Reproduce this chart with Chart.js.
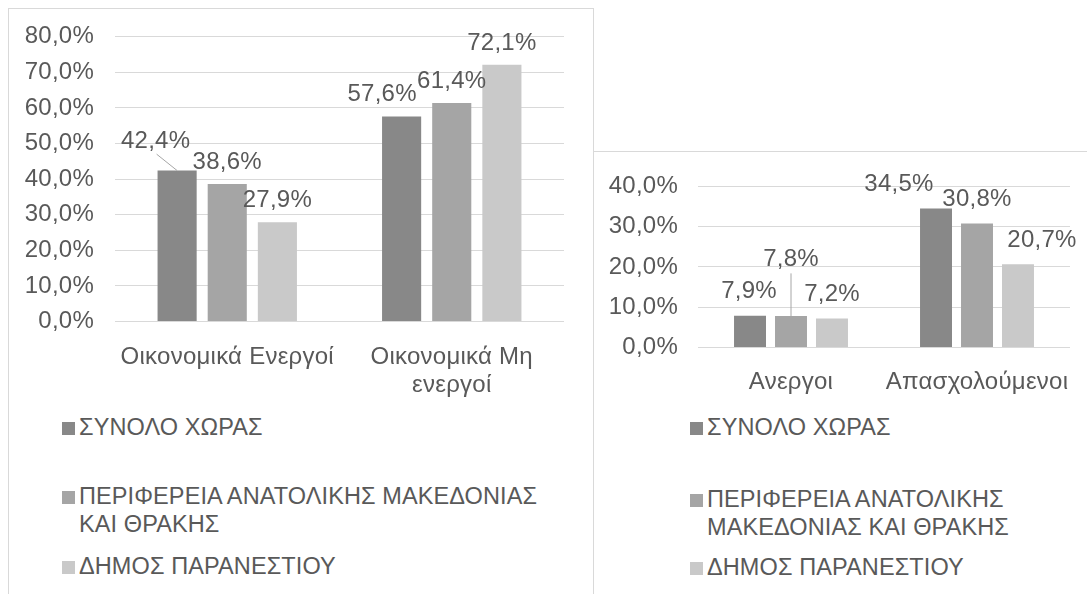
<!DOCTYPE html>
<html>
<head>
<meta charset="utf-8">
<script src="https://cdn.jsdelivr.net/npm/chart.js@4.4.0/dist/chart.umd.min.js"></script>
<style>
  body { margin: 0; width: 1087px; height: 594px; overflow: hidden; position: relative; background: #fff;
         font-family: "Liberation Sans", Arial, sans-serif; color: #595959; }
  .box { position: absolute; border: 1px solid #d9d9d9; box-sizing: border-box; }
  canvas { position: absolute; }
  .legend-item { position: absolute; font-size: 23.5px; letter-spacing: 0.1px; line-height: 27.6px; }
  .legend-item i { position: absolute; left: -17px; top: 8px; width: 13px; height: 13px; }
</style>
</head>
<body>
<div class="box" style="left:8px;top:8px;width:586px;height:620px;"></div>
<div class="box" style="left:593px;top:151px;width:520px;height:480px;"></div>
<canvas id="activityChart" width="593" height="400" style="left:0;top:0;"></canvas>
<canvas id="employmentChart" width="494" height="250" style="left:593px;top:152px;"></canvas>
<div id="activityLegend"></div>
<div id="employmentLegend"></div>
<script>
// series shared by both charts
const seriesNames = ['ΣΥΝΟΛΟ ΧΩΡΑΣ', 'ΠΕΡΙΦΕΡΕΙΑ ΑΝΑΤΟΛΙΚΗΣ ΜΑΚΕΔΟΝΙΑΣ ΚΑΙ ΘΡΑΚΗΣ', 'ΔΗΜΟΣ ΠΑΡΑΝΕΣΤΙΟΥ'];
const seriesColors = ['#888888', '#a5a5a5', '#c9c9c9'];

// left chart: economic activity
const activityCats = [['Οικονομικά Ενεργοί'], ['Οικονομικά Μη', 'ενεργοί']];
const activityCountry = [42.4, 57.6];
const activityRegion = [38.6, 61.4];
const activityMunicipality = [27.9, 72.1];
const activityMax = 80;

// right chart: employment
const employmentCats = ['Ανεργοι', 'Απασχολούμενοι'];
const employmentCountry = [7.9, 34.5];
const employmentRegion = [7.8, 30.8];
const employmentMunicipality = [7.2, 20.7];
const employmentMax = 40;

const tickStep = 10;
const FONT = '"Liberation Sans", Arial, sans-serif';
const TEXT = '#595959';
const SPACING = '0.25px';

function pct(v) {
  return v.toFixed(1).replace('.', ',') + '%';
}

// the source text is a bit wider than plain Arial, so add a little letter spacing
const wideText = {
  id: 'wideText',
  beforeDraw(chart) {
    chart.ctx.letterSpacing = SPACING;
  }
};

// draws the value labels above bars, with optional nudges and leader lines
const valueLabels = {
  id: 'valueLabels',
  afterDatasetsDraw(chart, args, opts) {
    const ctx = chart.ctx;
    ctx.save();
    ctx.letterSpacing = SPACING;
    ctx.font = '24px ' + FONT;
    ctx.fillStyle = TEXT;
    ctx.textAlign = 'center';
    ctx.textBaseline = 'alphabetic';
    chart.data.datasets.forEach((ds, i) => {
      chart.getDatasetMeta(i).data.forEach((bar, j) => {
        const n = (opts.nudges[i + '-' + j]) || {};
        const dx = n.dx || 0;
        const lift = n.lift || opts.lift;
        if (n.leader) {
          ctx.strokeStyle = '#a6a6a6';
          ctx.lineWidth = 1;
          ctx.beginPath();
          ctx.moveTo(bar.x + n.leader[0], bar.y + n.leader[1]);
          ctx.lineTo(bar.x, bar.y);
          ctx.stroke();
        }
        ctx.fillText(pct(ds.data[j]), bar.x + dx, bar.y - lift);
      });
    });
    ctx.restore();
  }
};

function makeDatasets(values) {
  return values.map((v, i) => ({
    label: seriesNames[i],
    data: v,
    backgroundColor: seriesColors[i],
    borderWidth: 0
  }));
}

function makeChart(id, cats, values, max, cfg) {
  return new Chart(document.getElementById(id).getContext('2d'), {
    type: 'bar',
    data: { labels: cats, datasets: makeDatasets(values) },
    options: {
      responsive: false,
      animation: false,
      categoryPercentage: cfg.catPct,
      barPercentage: 0.78,
      layout: { padding: { top: cfg.top, right: cfg.right, left: 0, bottom: 0 } },
      plugins: {
        legend: { display: false },
        tooltip: { enabled: false },
        valueLabels: { lift: cfg.lift, nudges: cfg.nudges }
      },
      scales: {
        x: {
          grid: { display: false },
          border: { display: false },
          ticks: { color: TEXT, font: { family: FONT, size: 24 }, padding: cfg.xPad, maxRotation: 0, autoSkip: false },
          afterFit: s => { s.height = cfg.xHeight; }
        },
        y: {
          min: 0,
          max: max,
          grid: { color: '#d9d9d9', lineWidth: 1, drawTicks: false },
          border: { display: false },
          ticks: { stepSize: tickStep, color: TEXT, font: { family: FONT, size: 24 }, padding: cfg.yPad, callback: v => pct(v) },
          afterFit: s => { s.width = cfg.yWidth; }
        }
      }
    },
    plugins: [wideText, valueLabels]
  });
}

makeChart('activityChart', activityCats, [activityCountry, activityRegion, activityMunicipality], activityMax, {
  catPct: 0.67, top: 36.7, right: 29, yWidth: 115, yPad: 21, xHeight: 78.5, xPad: 13, lift: 15,
  nudges: {
    '0-0': { dx: -21.5, lift: 23, leader: [-20.5, -16.4] },
    '0-1': { dx: -19.5 }
  }
});

makeChart('employmentChart', employmentCats, [employmentCountry, employmentRegion, employmentMunicipality], employmentMax, {
  catPct: 0.661, top: 29.7, right: 17, yWidth: 105, yPad: 20, xHeight: 54.5, xPad: 12, lift: 17.5,
  nudges: {
    '0-0': { dx: -1 },
    '1-0': { lift: 50.5, leader: [0, -42.7] },
    '0-1': { dx: -37 },
    '2-1': { dx: 24 }
  }
});

// html legends, one per chart
function buildLegend(id, left, tops, width) {
  const root = document.getElementById(id);
  seriesNames.forEach((name, i) => {
    const item = document.createElement('div');
    item.className = 'legend-item';
    item.style.left = left + 'px';
    item.style.top = tops[i] + 'px';
    item.style.width = width + 'px';
    const mark = document.createElement('i');
    mark.style.background = seriesColors[i];
    item.appendChild(mark);
    item.appendChild(document.createTextNode(name));
    root.appendChild(item);
  });
}
buildLegend('activityLegend', 79, [414, 483, 552.5], 485);
buildLegend('employmentLegend', 707, [414.3, 486, 554.3], 370);
</script>
</body>
</html>
